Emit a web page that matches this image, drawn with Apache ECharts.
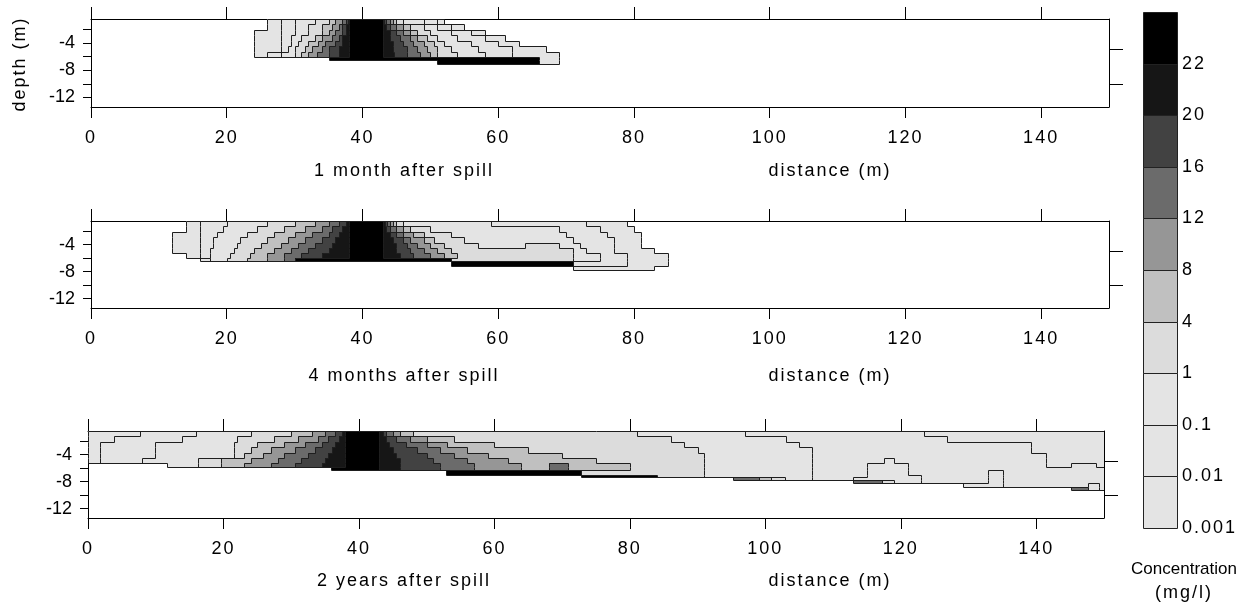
<!DOCTYPE html>
<html><head><meta charset="utf-8">
<script src="https://cdn.jsdelivr.net/npm/echarts@6/dist/echarts.min.js"></script>
<style>html,body{margin:0;padding:0;background:#fff}#c{width:1249px;height:613px}</style>
</head><body><div id="c"></div>
<script>
// ---------- data ----------
const distTicks = [0, 20, 40, 60, 80, 100, 120, 140];
const depthLabels = [-4, -8, -12];
const depthMinorTicks = [-2, -4, -6, -8, -10, -12];
const depthRightTicks = [-5, -10];
const bandLabels = ['0.001', '0.01', '0.1', '1', '4', '8', '12', '16', '20', '22'];
const bandColors = ['#e4e4e4', '#e4e4e4', '#e4e4e4', '#dcdcdc', '#c0c0c0', '#969696', '#6b6b6b', '#424242', '#161616', '#000000'];
const panelTitles = ['1 month after spill', '4 months after spill', '2 years after spill'];

// layer boundaries (depth, m) and concentration band runs per layer: [x0,band,x1,band,...,xEnd]
const p1Depths = [-0.5, -1.3, -2.1, -2.9, -3.7, -4.5, -5.3, -6.1, -6.45, -7.1];
const p1Rows = [
  [26,1, 28,2, 30,3, 33,4, 35,5, 36,6, 37,7, 37.5,8, 37.8,9, 38,10, 43,9, 43.2,8, 43.5,7, 44,6, 44.5,5, 45,4, 46,3, 49,2, 51,1, 52],
  [26,1, 28,2, 30,3, 32,4, 34,5, 35.5,6, 36.5,7, 37,8, 37.5,9, 38,10, 43,9, 43.5,8, 44,7, 45,6, 46,5, 47,4, 49,3, 51,2, 53,1, 55],
  [24,1, 28,2, 30,3, 32,4, 34,5, 35,6, 36,7, 37,8, 37.5,9, 38,10, 43,9, 44,8, 45,7, 46,6, 47,5, 48,4, 50,3, 53,2, 56,1, 58],
  [24,1, 28,2, 29.5,3, 31,4, 33,5, 34,6, 35.5,7, 36.5,8, 37,9, 38,10, 43,9, 44,8, 45.5,7, 47,6, 48,5, 49.5,4, 51,3, 54,2, 58,1, 61],
  [24,1, 28,2, 29.5,3, 30.5,4, 32,5, 33.5,6, 34.5,7, 36,8, 37,9, 38,10, 43,9, 44.5,8, 46,7, 47.5,6, 49,5, 50.5,4, 52,3, 56,2, 60,1, 63],
  [24,1, 28,2, 29,3, 30,4, 31.5,5, 32.5,6, 34,7, 35,8, 36.5,9, 38,10, 43,9, 44.5,8, 46.5,7, 48,6, 49.5,5, 51,4, 53,3, 57,2, 62,1, 67],
  [24,1, 26,2, 28,3, 30,4, 31,5, 32,6, 33.3,7, 35,8, 36.5,9, 38,10, 43,9, 44.6,8, 46.5,7, 48.5,6, 50,5, 51,4, 54,3, 58,2, 62,1, 69],
  [35,10, 66,1, 69],
  [51,10, 66,1, 69]
];

const p2Depths = [-0.5, -1.3, -2.1, -2.9, -3.7, -4.5, -5.3, -6.0, -6.45, -7.17, -7.75];
const p2Rows = [
  [14,1, 16,2, 20,3, 26,4, 30,5, 33,6, 35,7, 36.5,8, 37.5,9, 38,10, 43,9, 43.3,8, 43.6,7, 44,6, 44.5,5, 45,4, 46,3, 59,2, 73,1, 79],
  [14,1, 16,2, 19.5,3, 24.5,4, 28.5,5, 31.5,6, 34,7, 35.5,8, 37,9, 38,10, 43,9, 43.5,8, 44,7, 45,6, 46,5, 47,4, 50,3, 69,2, 75,1, 80],
  [12,1, 16,2, 18.5,3, 23,4, 27,5, 30,6, 32.5,7, 35,8, 36.5,9, 38,10, 43,9, 44,8, 45,7, 46,6, 47.5,5, 49,4, 53,3, 70,2, 76,1, 81],
  [12,1, 16,2, 18,3, 22,4, 26,5, 29,6, 31.5,7, 34,8, 36,9, 38,10, 43,9, 44.5,8, 46,7, 47,6, 49,5, 50.5,4, 55,3, 71,2, 77,1, 81],
  [12,1, 16,2, 18,3, 21.5,4, 25,5, 28,6, 30.5,7, 33,8, 35.5,9, 38,10, 43,9, 45,8, 46.5,7, 48,6, 50,5, 52,4, 57,3, 64,4, 69,3, 72,2, 77,1, 81],
  [12,1, 16,2, 17.5,3, 21,4, 24,5, 27,6, 29.5,7, 32,8, 35,9, 38,10, 43,9, 45,8, 47,7, 49,6, 51,5, 53,4, 71,3, 73,2, 77,1, 83],
  [14,1, 16,2, 17.5,3, 20.5,4, 23.5,5, 26,6, 28.5,7, 31,8, 34,9, 38,10, 43,9, 45.5,8, 47.5,7, 50,6, 52,5, 54,4, 71,3, 75,2, 79,1, 85],
  [16,1, 17.5,3, 20,4, 23,5, 26,6, 28.5,7, 30,10, 53,4, 71,3, 75,2, 79,1, 85],
  [53,10, 71,2, 79,1, 85],
  [71,1, 83]
];

const p3Depths = [-0.5, -1.3, -2.1, -2.9, -3.7, -4.5, -5.26, -5.84, -6.34, -6.97, -7.3, -7.8, -8.2, -8.84, -9.2];
const p3Rows = [
  [0,1, 7.7,2, 16,3, 24,4, 30,5, 33,6, 35,7, 36.5,8, 37.5,9, 38,10, 43,9, 43.5,8, 44,7, 45,6, 46,5, 48,4, 81,3, 97,2, 123.4,1, 150],
  [0,1, 3.8,2, 13.9,3, 22,4, 27.5,5, 31,6, 34,7, 35.5,8, 37,9, 38,10, 43,9, 44,8, 45.5,7, 47.5,6, 50,5, 54,4, 86,3, 103,2, 126.8,1, 150],
  [0,1, 1.8,2, 9.9,3, 21.6,4, 25,5, 29,6, 32,7, 34.5,8, 36.5,9, 38,10, 43,9, 44.5,8, 47,7, 50,6, 53,5, 60,4, 88,3, 105,2, 139.2,1, 150],
  [0,1, 1.8,2, 9.9,3, 21.6,4, 24,5, 27,6, 30.5,7, 33.5,8, 36,9, 38,10, 43,9, 45,8, 48.5,7, 52,6, 56,5, 65,4, 90,3, 106.9,2, 139.2,1, 150],
  [0,1, 1.8,2, 9.9,3, 21.6,4, 23,5, 25.8,6, 29,7, 32.5,8, 35.5,9, 38,10, 43,9, 45.5,8, 50,7, 54,6, 59,5, 70,4, 90.9,3, 106.9,2, 141.4,1, 150],
  [0,1, 1.8,2, 7.9,3, 16.2,4, 19.6,5, 24,6, 28,7, 31.5,8, 35,9, 38,10, 43,9, 46,8, 51,7, 56,6, 62,5, 75,4, 90.9,3, 106.9,2, 117.5,3, 119,2, 141.4,1, 150],
  [11.7,3, 16.2,4, 19.6,5, 23,6, 27,7, 30.5,8, 34.5,9, 38,10, 43,9, 46,8, 52,7, 57,6, 64,5, 68,7, 70.8,5, 80,4, 90.9,3, 106.9,2, 115,3, 121,2, 141.4,1, 145.1,2, 148.8,1, 150],
  [35.9,10, 43,9, 46,8, 52,7, 57,6, 64,5, 68,7, 70.8,5, 80,4, 90.9,3, 106.9,2, 115,3, 121,2, 150],
  [52.8,10, 72.8,4, 90.9,3, 106.9,2, 115,3, 121,2, 132.9,3, 135.1,2, 150],
  [72.8,10, 84,4, 90.9,3, 106.9,2, 115,3, 123,2, 132.9,3, 135.1,2, 150],
  [95.2,7, 99.1,5, 100.9,4, 102.9,3, 106.9,2, 113,3, 123,2, 132.9,3, 135.1,2, 150],
  [113,7, 117.2,4, 119,3, 123,2, 132.9,3, 135.1,2, 150],
  [129.2,3, 135.1,2, 147.7,3, 149.2,2, 150],
  [145.2,7, 147.7,3, 149.2,2, 150]
];

// ---------- text letter spacing (presentation only) ----------
const LETTER_SPACING = 2;
const spacedTexts = new Set(
  distTicks.map(String).concat(bandLabels, panelTitles, ['distance (m)', 'depth (m)', '(mg/l)'])
);
(function () {
  const P = CanvasRenderingContext2D.prototype;
  if (!('letterSpacing' in P)) return;
  const of = P.fillText, om = P.measureText;
  const want = t => spacedTexts.has(String(t).trim());
  P.fillText = function (t, x, y, w) {
    const prev = this.letterSpacing;
    this.letterSpacing = want(t) ? LETTER_SPACING + 'px' : '0px';
    if (w === undefined) of.call(this, t, x, y); else of.call(this, t, x, y, w);
    this.letterSpacing = prev;
  };
  P.measureText = function (t) {
    const prev = this.letterSpacing;
    this.letterSpacing = want(t) ? LETTER_SPACING + 'px' : '0px';
    const r = om.call(this, t);
    this.letterSpacing = prev;
    return r;
  };
})();

// ---------- build cells and contour segments ----------
function bandAt(row, x) {
  for (let i = 0; i + 2 < row.length; i += 2) {
    if (x >= row[i] && x < row[i + 2]) return row[i + 1];
  }
  return 0;
}
function buildPanel(depths, rows) {
  const cells = [], segs = [];
  rows.forEach((row, j) => {
    const top = depths[j], bot = depths[j + 1];
    for (let i = 0; i + 2 < row.length; i += 2) {
      if (row[i + 1] > 0) cells.push([row[i], row[i + 2], top, bot, row[i + 1]]);
    }
    for (let i = 0; i < row.length; i += 2) {
      const prev = i === 0 ? 0 : row[i - 1];
      const cur = i + 1 < row.length ? row[i + 1] : 0;
      if (prev !== cur) segs.push([row[i], top, row[i], bot]);
    }
  });
  for (let j = 0; j <= rows.length; j++) {
    const a = j > 0 ? rows[j - 1] : [], b = j < rows.length ? rows[j] : [];
    const xs = Array.from(new Set(a.filter((_, i) => i % 2 === 0).concat(b.filter((_, i) => i % 2 === 0)))).sort((p, q) => p - q);
    const y = depths[j];
    let start = null;
    for (let k = 0; k + 1 < xs.length; k++) {
      const xm = (xs[k] + xs[k + 1]) / 2;
      const diff = bandAt(a, xm) !== bandAt(b, xm);
      if (diff && start === null) start = xs[k];
      if (!diff && start !== null) { segs.push([start, y, xs[k], y]); start = null; }
    }
    if (start !== null) segs.push([start, y, xs[xs.length - 1], y]);
  }
  return { cells, segs };
}
const panels = [buildPanel(p1Depths, p1Rows), buildPanel(p2Depths, p2Rows), buildPanel(p3Depths, p3Rows)];

// ---------- chart ----------
const FONT = 'Liberation Sans';
const gridBoxes = [
  { left: 91, top: 19, width: 1018, height: 88 },
  { left: 91, top: 221, width: 1018, height: 87 },
  { left: 88, top: 431, width: 1016, height: 87 },
  { left: 1143, top: 12, width: 34, height: 516 }
];
const grid = gridBoxes.map(g => Object.assign({ containLabel: false, outerBoundsMode: 'none' }, g));
const xAxis = [], yAxis = [], series = [];
const crisp = v => Math.round(v);
for (let p = 0; p < 3; p++) {
  ['bottom', 'top'].forEach(pos => xAxis.push({
    type: 'value', gridIndex: p, position: pos, min: 0, max: 150,
    axisLine: { show: true, onZero: false, lineStyle: { color: '#000', width: 1 } },
    axisTick: { show: true, inside: false, length: pos === 'bottom' ? 11 : 12, customValues: distTicks, lineStyle: { color: '#000' } },
    axisLabel: { show: pos === 'bottom', customValues: distTicks, margin: 22, fontSize: 18, fontFamily: FONT, color: '#000' },
    splitLine: { show: false }
  }));
  ['left', 'right'].forEach(pos => yAxis.push({
    type: 'value', gridIndex: p, position: pos, min: -13.4, max: -0.5,
    axisLine: { show: true, onZero: false, lineStyle: { color: '#000', width: 1 } },
    axisTick: { show: true, inside: false, length: pos === 'left' ? 8 : 14, customValues: pos === 'left' ? depthMinorTicks : depthRightTicks, lineStyle: { color: '#000' } },
    axisLabel: { show: pos === 'left', customValues: depthLabels, margin: 16, fontSize: 18, fontFamily: FONT, color: '#000' },
    splitLine: { show: false }
  }));
  series.push({
    type: 'custom', xAxisIndex: 2 * p, yAxisIndex: 2 * p, silent: true, clip: true,
    encode: { x: [0, 1], y: [2, 3] },
    data: panels[p].cells,
    renderItem: (params, api) => {
      const a = api.coord([api.value(0), api.value(2)]);
      const b = api.coord([api.value(1), api.value(3)]);
      const x0 = crisp(a[0]), x1 = crisp(b[0]), y0 = crisp(a[1]), y1 = crisp(b[1]);
      return { type: 'rect', shape: { x: x0, y: y0, width: x1 - x0, height: y1 - y0 }, style: { fill: bandColors[api.value(4) - 1] } };
    }
  });
  series.push({
    type: 'custom', xAxisIndex: 2 * p, yAxisIndex: 2 * p, silent: true, clip: true,
    encode: { x: [0, 2], y: [1, 3] },
    data: panels[p].segs,
    renderItem: (params, api) => {
      const a = api.coord([api.value(0), api.value(1)]);
      const b = api.coord([api.value(2), api.value(3)]);
      return { type: 'line', shape: { x1: crisp(a[0]) + 0.5, y1: crisp(a[1]) + 0.5, x2: crisp(b[0]) + 0.5, y2: crisp(b[1]) + 0.5 }, style: { stroke: '#1e1e1e', lineWidth: 1 } };
    }
  });
}
// colour bar
xAxis.push({ type: 'value', gridIndex: 3, min: 0, max: 1, show: false });
yAxis.push({
  type: 'value', gridIndex: 3, position: 'right', min: 0, max: 10, interval: 1,
  axisLine: { show: false }, axisTick: { show: false }, splitLine: { show: false },
  axisLabel: { show: true, margin: 5, fontSize: 18, fontFamily: FONT, color: '#000', formatter: v => (v < bandLabels.length ? bandLabels[v] : '') }
});
series.push({
  type: 'custom', xAxisIndex: 6, yAxisIndex: 6, silent: true,
  encode: { x: [0, 1], y: [2, 3] },
  data: bandLabels.map((_, i) => [0, 1, i, i + 1, i]),
  renderItem: (params, api) => {
    const a = api.coord([api.value(0), api.value(3)]);
    const b = api.coord([api.value(1), api.value(2)]);
    const x0 = Math.round(a[0]) + 0.5, y0 = Math.round(a[1]) + 0.5, x1 = Math.round(b[0]) + 0.5, y1 = Math.round(b[1]) + 0.5;
    return { type: 'rect', shape: { x: x0, y: y0, width: x1 - x0, height: y1 - y0 }, style: { fill: bandColors[api.value(4)], stroke: '#222', lineWidth: 1 } };
  }
});

const txt = (x, y, text, size, extra) => Object.assign({
  type: 'text', x, y, silent: true,
  style: { text, fill: '#000', font: (size || 18) + 'px "' + FONT + '"', textAlign: 'center', textVerticalAlign: 'middle' }
}, extra || {});
const graphic = [
  txt(20, 64, 'depth (m)', 18, { rotation: Math.PI / 2 }),
  txt(1184, 569, 'Concentration', 17),
  txt(1184, 593, '(mg/l)', 18)
];
const subY = [171, 376, 581];
panelTitles.forEach((t, i) => {
  graphic.push(txt(404, subY[i], t, 18));
  graphic.push(txt(830, subY[i], 'distance (m)', 18));
});

const chart = echarts.init(document.getElementById('c'), null, { renderer: 'canvas' });
chart.setOption({ animation: false, backgroundColor: '#fff', grid, xAxis, yAxis, series, graphic });
</script></body></html>
